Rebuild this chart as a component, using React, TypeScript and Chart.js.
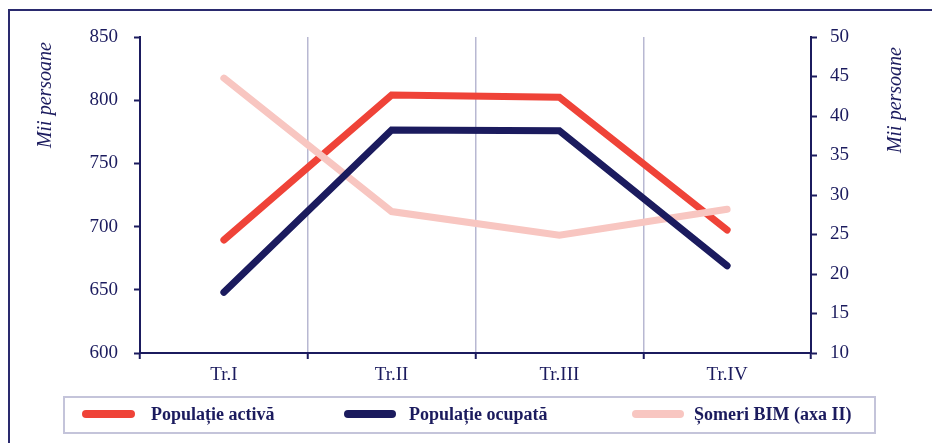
import React, { useEffect, useRef } from "react";
import { Chart, registerables } from "chart.js";

Chart.register(...registerables);

const categories = ["Tr.I", "Tr.II", "Tr.III", "Tr.IV"];
const populatieActiva = [689.4, 804.1, 802.3, 697.3];
const populatieOcupata = [648.0, 776.4, 775.9, 669.0];
const someriBIM = [44.8, 27.9, 24.9, 28.2];
const seriesLabels = ["Populație activă", "Populație ocupată", "Șomeri BIM (axa II)"];
const axisTitle = "Mii persoane";

const NAVY = "#1b1b5e";
const RED = "#ef4338";
const PINK = "#f8c6c1";
const GRID = "#b8b8d2";
const SERIF = "'Liberation Serif', 'Times New Roman', serif";

const decorPlugin = {
  id: "decor",
  beforeDraw(chart: any) {
    const ctx = chart.ctx;
    ctx.save();
    ctx.strokeStyle = "#2a2a6e";
    ctx.lineWidth = 2;
    ctx.beginPath();
    ctx.moveTo(9, 443);
    ctx.lineTo(9, 10);
    ctx.lineTo(932, 10);
    ctx.stroke();
    ctx.restore();
  },
  afterDraw(chart: any) {
    const ctx = chart.ctx;
    ctx.save();
    // axis titles (both read bottom-to-top)
    ctx.fillStyle = NAVY;
    ctx.font = `italic 20px ${SERIF}`;
    ctx.textAlign = "right";
    ctx.textBaseline = "middle";
    ctx.translate(46, 42);
    ctx.rotate(-Math.PI / 2);
    ctx.fillText(axisTitle, 0, 0);
    ctx.restore();
    ctx.save();
    ctx.fillStyle = NAVY;
    ctx.font = `italic 20px ${SERIF}`;
    ctx.textAlign = "right";
    ctx.textBaseline = "middle";
    ctx.translate(896, 47);
    ctx.rotate(-Math.PI / 2);
    ctx.fillText(axisTitle, 0, 0);
    ctx.restore();

    // legend box
    ctx.save();
    ctx.strokeStyle = "#c4c4da";
    ctx.lineWidth = 2;
    ctx.strokeRect(64, 397, 811, 36);
    const items = [
      { x1: 86, x2: 131, tx: 151 },
      { x1: 348, x2: 392, tx: 409 },
      { x1: 636, x2: 680, tx: 694 },
    ];
    chart.data.datasets.forEach((ds: any, i: number) => {
      const it = items[i];
      ctx.strokeStyle = ds.borderColor;
      ctx.lineWidth = 8;
      ctx.lineCap = "round";
      ctx.beginPath();
      ctx.moveTo(it.x1, 414);
      ctx.lineTo(it.x2, 414);
      ctx.stroke();
      ctx.fillStyle = NAVY;
      ctx.font = `bold 18px ${SERIF}`;
      ctx.textAlign = "left";
      ctx.textBaseline = "middle";
      ctx.fillText(ds.label, it.tx, 415);
    });
    ctx.restore();
  },
};

export default function App() {
  const ref = useRef<HTMLCanvasElement | null>(null);
  useEffect(() => {
    if (!ref.current) return;
    const chart = new Chart(ref.current, {
      type: "line",
      data: {
        labels: categories,
        datasets: [
          {
            label: seriesLabels[0],
            data: populatieActiva,
            borderColor: RED,
            backgroundColor: RED,
            borderWidth: 7,
            pointRadius: 0,
            borderCapStyle: "round",
            yAxisID: "y",
            order: 2,
          },
          {
            label: seriesLabels[1],
            data: populatieOcupata,
            borderColor: NAVY,
            backgroundColor: NAVY,
            borderWidth: 7,
            pointRadius: 0,
            borderCapStyle: "round",
            yAxisID: "y",
            order: 0,
          },
          {
            label: seriesLabels[2],
            data: someriBIM,
            borderColor: PINK,
            backgroundColor: PINK,
            borderWidth: 7,
            pointRadius: 0,
            borderCapStyle: "round",
            yAxisID: "y1",
            order: 1,
          },
        ],
      },
      options: {
        animation: false,
        responsive: false,
        maintainAspectRatio: false,
        layout: { padding: { top: 37, left: 0, right: 0, bottom: 0 } },
        plugins: {
          legend: { display: false },
          tooltip: { enabled: false },
        },
        scales: {
          x: {
            offset: true,
            grid: {
              offset: true,
              color: GRID,
              lineWidth: 1.5,
              drawTicks: true,
              tickLength: 6,
              tickColor: NAVY,
              tickWidth: 2,
            },
            border: { color: NAVY, width: 2 },
            ticks: {
              color: NAVY,
              font: { family: SERIF, size: 19 },
              padding: 5,
            },
            afterFit(scale: any) {
              scale.height = 90;
            },
          },
          y: {
            position: "left",
            min: 600,
            max: 850,
            grid: {
              drawOnChartArea: false,
              drawTicks: true,
              tickLength: 6,
              tickColor: NAVY,
              tickWidth: 2,
            },
            border: { color: NAVY, width: 2 },
            ticks: {
              stepSize: 50,
              color: NAVY,
              font: { family: SERIF, size: 19 },
              padding: 16,
            },
            afterFit(scale: any) {
              scale.width = 140;
            },
          },
          y1: {
            position: "right",
            min: 10,
            max: 50,
            grid: {
              drawOnChartArea: false,
              drawTicks: true,
              tickLength: 6,
              tickColor: NAVY,
              tickWidth: 2,
            },
            border: { color: NAVY, width: 2 },
            ticks: {
              stepSize: 5,
              color: NAVY,
              font: { family: SERIF, size: 19 },
              padding: 13,
            },
            afterFit(scale: any) {
              scale.width = 121;
            },
          },
        },
      },
      plugins: [decorPlugin],
    } as any);
    return () => chart.destroy();
  }, []);
  return (
    <div style={{ position: "fixed", left: 0, top: 0, width: 932, height: 443, background: "#fff" }}>
      <canvas ref={ref} width={932} height={443} style={{ width: 932, height: 443, display: "block" }} />
    </div>
  );
}
